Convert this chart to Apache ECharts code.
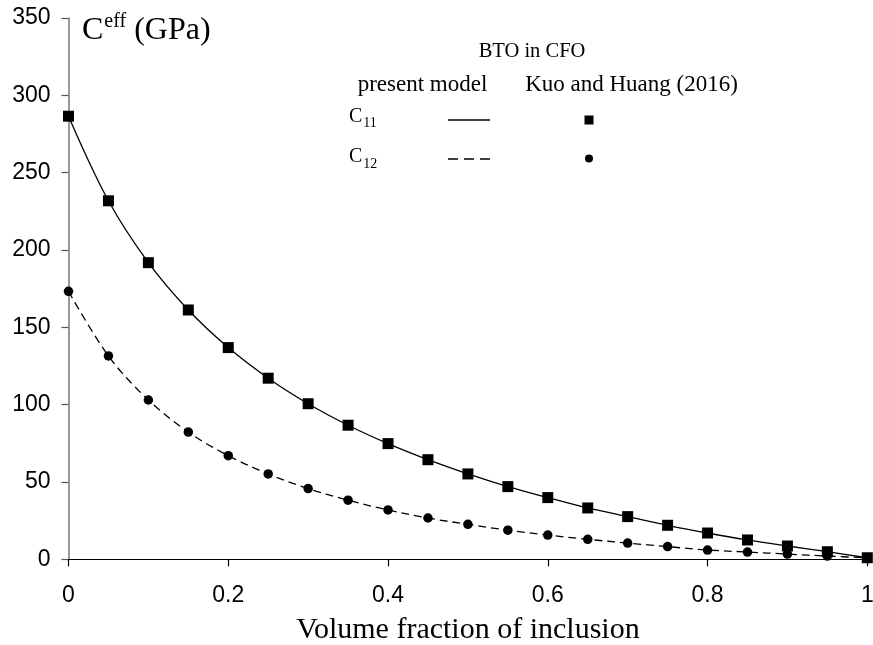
<!DOCTYPE html>
<html>
<head>
<meta charset="utf-8">
<script src="https://cdn.jsdelivr.net/npm/echarts@6/dist/echarts.min.js"></script>
<style>html,body{margin:0;padding:0;background:#fff}#c{width:873px;height:645px}</style>
</head>
<body>
<div id="c"></div>
<script>
const volumeFraction = [0,0.05,0.1,0.15,0.2,0.25,0.3,0.35,0.4,0.45,0.5,0.55,0.6,0.65,0.7,0.75,0.8,0.85,0.9,0.95,1];
const c11Model = [286.5,231.8,191.8,161.2,136.9,117.1,100.6,86.7,74.8,64.4,55.2,47.0,39.9,33.2,27.6,22.0,17.0,12.5,8.6,4.9,1.0];
const c12Model = [173.3,131.5,103.0,82.3,67.0,55.2,45.7,38.2,31.9,26.7,22.6,18.8,15.7,12.9,10.5,8.2,6.0,4.7,3.4,2.1,1.0];
const c11Kuo = [286.5,231.8,191.8,161.2,136.9,117.1,100.6,86.7,74.8,64.4,55.2,47.0,39.9,33.2,27.6,22.0,17.0,12.5,8.6,4.9,1.0];
const c12Kuo = [173.3,131.5,103.0,82.3,67.0,55.2,45.7,38.2,31.9,26.7,22.6,18.8,15.7,12.9,10.5,8.2,6.0,4.7,3.4,2.1,1.0];
const xTicks = {min:0, max:1, interval:0.2};
const yTicks = {min:0, max:350, interval:50};
const xTitle = 'Volume fraction of inclusion';
const legendTitle = 'BTO in CFO';
const legendCols = ['present model','Kuo and Huang (2016)'];

const pairs = (xs, ys) => xs.map((x,i)=>[x, ys[i]]);
const serif = "'Liberation Serif','Times New Roman',serif";
const sans = "'Liberation Sans',Arial,sans-serif";
const subRich = {
  c:{fontFamily:serif, fontSize:20, lineHeight:24, verticalAlign:'top', fill:'#000'},
  s:{fontFamily:serif, fontSize:14, lineHeight:14, verticalAlign:'bottom', fill:'#000', padding:[0,0,0,1]}
};

const chart = echarts.init(document.getElementById('c'), null, {renderer:'canvas'});
chart.setOption({
  animation:false,
  backgroundColor:'#fff',
  grid:{left:68.5, right:5.7, top:18, bottom:85.7, containLabel:false, outerBoundsMode:'none'},
  xAxis:{
    type:'value', min:xTicks.min, max:xTicks.max, interval:xTicks.interval,
    splitLine:{show:false},
    axisLine:{onZero:false, lineStyle:{color:'#000', width:1.2}},
    axisTick:{show:true, length:7, inside:false, lineStyle:{color:'#000', width:1.2}},
    axisLabel:{color:'#000', fontFamily:sans, fontSize:23, margin:25},
    name:xTitle, nameLocation:'middle', nameGap:56,
    nameTextStyle:{color:'#000', fontFamily:serif, fontSize:30}
  },
  yAxis:{
    type:'value', min:yTicks.min, max:yTicks.max, interval:yTicks.interval,
    splitLine:{show:false},
    axisLine:{show:true, lineStyle:{color:'#777', width:1.5}},
    axisTick:{show:true, length:7, inside:false, lineStyle:{color:'#555', width:1.2}},
    axisLabel:{color:'#000', fontFamily:sans, fontSize:23, margin:18}
  },
  series:[
    {name:'C11 present model', type:'line', smooth:0.35, showSymbol:false, data:pairs(volumeFraction,c11Model),
     lineStyle:{color:'#000', width:1.3}, z:2},
    {name:'C12 present model', type:'line', smooth:0.35, showSymbol:false, data:pairs(volumeFraction,c12Model),
     lineStyle:{color:'#000', width:1.3, type:[8,5]}, z:2},
    {name:'C11 Kuo and Huang (2016)', type:'scatter', symbol:'rect', symbolSize:11, data:pairs(volumeFraction,c11Kuo),
     itemStyle:{color:'#000', opacity:1}, z:3},
    {name:'C12 Kuo and Huang (2016)', type:'scatter', symbol:'circle', symbolSize:9.5, data:pairs(volumeFraction,c12Kuo),
     itemStyle:{color:'#000', opacity:1}, z:3}
  ],
  graphic:[
    {type:'text', left:82, top:12, style:{
      text:'{c|C}{s|eff}{c| (GPa)}',
      rich:{c:{fontFamily:serif, fontSize:32, lineHeight:35, verticalAlign:'bottom', fill:'#000'},
            s:{fontFamily:serif, fontSize:20, lineHeight:20, verticalAlign:'top', fill:'#000', padding:[0,0,0,1]}}}},
    {type:'text', x:532, y:52, style:{text:legendTitle, fontFamily:serif, fontSize:20.5, fill:'#000', align:'center', verticalAlign:'middle'}},
    {type:'text', x:422.5, y:85, style:{text:legendCols[0], fontFamily:serif, fontSize:23, fill:'#000', align:'center', verticalAlign:'middle'}},
    {type:'text', x:631.5, y:85, style:{text:legendCols[1], fontFamily:serif, fontSize:23, fill:'#000', align:'center', verticalAlign:'middle'}},
    {type:'text', x:349, y:106.5, style:{text:'{c|C}{s|11}', rich:subRich}},
    {type:'text', x:349, y:147, style:{text:'{c|C}{s|12}', rich:subRich}},
    {type:'line', shape:{x1:448, y1:120, x2:490, y2:120}, style:{stroke:'#000', lineWidth:1.3}},
    {type:'line', shape:{x1:448, y1:159, x2:490, y2:159}, style:{stroke:'#000', lineWidth:1.6, lineDash:[10,6]}},
    {type:'rect', shape:{x:584.5, y:115.5, width:9, height:9}, style:{fill:'#000'}},
    {type:'circle', shape:{cx:589, cy:158.5, r:4}, style:{fill:'#000'}}
  ]
});
</script>
</body>
</html>
